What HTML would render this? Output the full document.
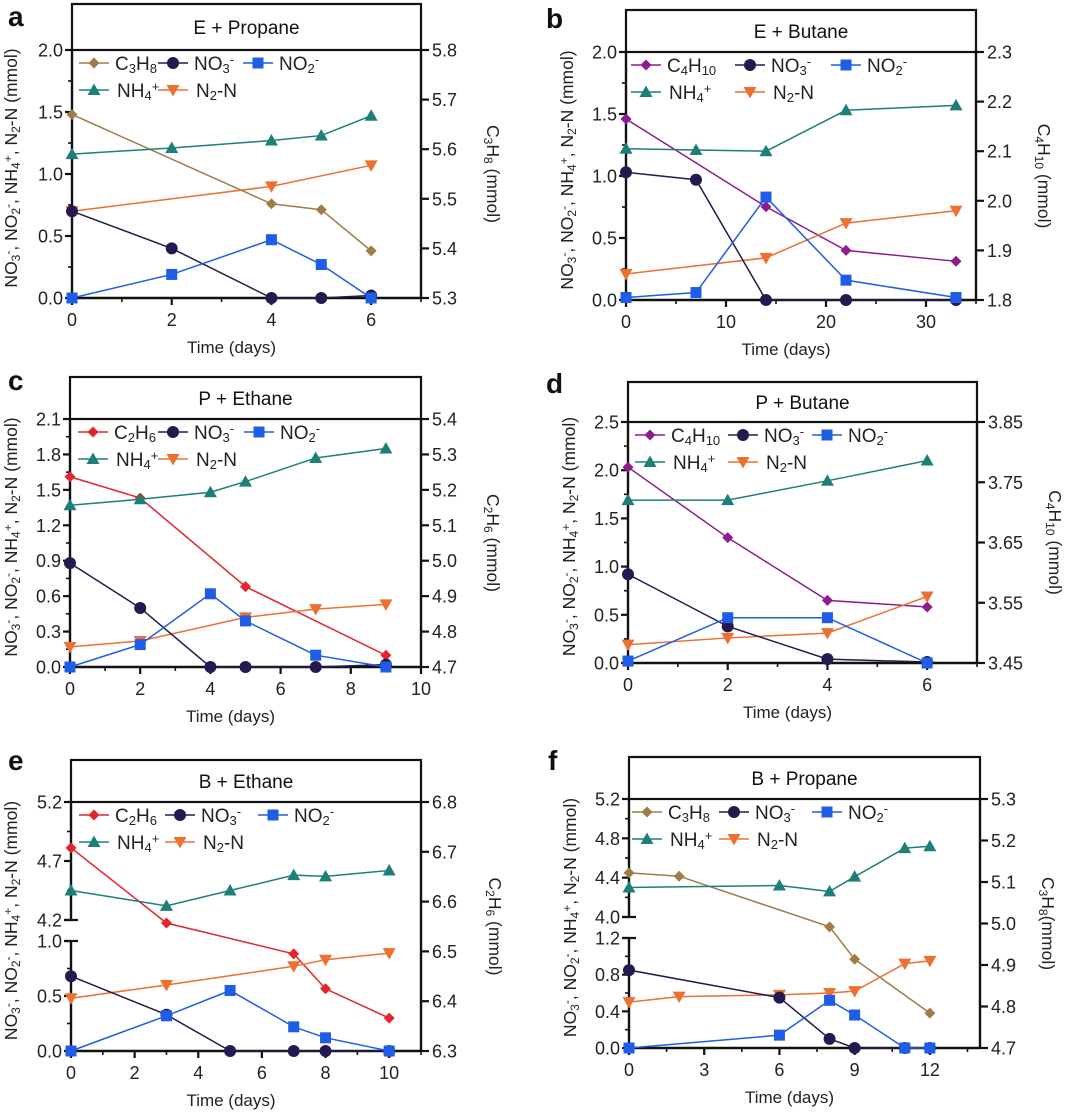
<!DOCTYPE html>
<html><head><meta charset="utf-8"><style>
html,body{margin:0;padding:0;background:#fff}
svg{display:block;font-family:"Liberation Sans",Arial,sans-serif}
</style></head><body>
<svg id="fig" width="1080" height="1114" viewBox="0 0 1080 1114" xmlns="http://www.w3.org/2000/svg"></svg>
<script>
// ---- Panel a: E + Propane
const aDays=[0,2,4,5,6];
const aGasDays=[0,4,5,6];
const aGas=[5.670,5.490,5.478,5.395];
const aNO3=[0.70,0.40,0,0,0.02];
const aNO2=[0,0.19,0.47,0.27,0];
const aNH4=[1.16,1.21,1.27,1.31,1.47];
const aN2Days=[0,4,6];
const aN2=[0.70,0.90,1.07];
// ---- Panel b: E + Butane
const bDays=[0,7,14,22,33];
const bGasDays=[0,14,22,33];
const bGas=[2.165,1.988,1.900,1.878];
const bNO3=[1.03,0.97,0,0,0];
const bNO2=[0.02,0.06,0.83,0.16,0.02];
const bNH4=[1.22,1.21,1.20,1.53,1.57];
const bN2Days=[0,14,22,33];
const bN2=[0.21,0.34,0.62,0.72];
// ---- Panel c: P + Ethane
const cDays=[0,2,4,5,7,9];
const cGasDays=[0,2,5,9];
const cGas=[5.237,5.177,4.927,4.733];
const cNO3=[0.88,0.50,0,0,0,0.02];
const cNO2=[0,0.19,0.62,0.39,0.10,0];
const cNH4=[1.37,1.42,1.48,1.57,1.77,1.85];
const cN2Days=[0,2,5,7,9];
const cN2=[0.17,0.22,0.42,0.49,0.53];
// ---- Panel d: P + Butane
const dDays=[0,2,4,6];
const dGasDays=[0,2,4,6];
const dGas=[3.775,3.658,3.554,3.543];
const dNO3=[0.92,0.38,0.04,0.01];
const dNO2=[0.02,0.47,0.47,0];
const dNH4=[1.69,1.69,1.89,2.10];
const dN2Days=[0,2,4,6];
const dN2=[0.19,0.26,0.31,0.69];
// ---- Panel e: B + Ethane
const eDays=[0,3,5,7,8,10];
const eGasDays=[0,3,7,8,10];
const eGas=[6.708,6.557,6.495,6.425,6.366];
const eNO3=[0.68,0.33,0,0,0,0];
const eNO2=[0,0.32,0.55,0.22,0.12,0];
const eNH4=[4.45,4.32,4.45,4.58,4.57,4.62];
const eN2Days=[0,3,7,8,10];
const eN2=[0.48,0.60,0.77,0.83,0.89];
// ---- Panel f: B + Propane
const fDays=[0,6,8,9,11,12];
const fGasDays=[0,2,8,9,12];
const fGas=[5.122,5.114,4.992,4.914,4.784];
const fNO3=[0.85,0.55,0.10,0,0,0];
const fNO2=[0,0.14,0.52,0.36,0,0];
const fNH4=[4.30,4.32,4.26,4.41,4.70,4.72];
const fN2Days=[0,2,6,8,9,11,12];
const fN2=[0.50,0.56,0.58,0.60,0.62,0.92,0.95];

const C={C3H8:'#a07c48',C4H10:'#8e1c8e',C2H6:'#e3262b',NO3:'#241a4f',NO2:'#1f5de6',NH4:'#1d7f78',N2:'#ec7030'};
const NS='http://www.w3.org/2000/svg';
const svg=document.getElementById('fig');
function mk(tag,attrs,parent){const e=document.createElementNS(NS,tag);for(const k in attrs)e.setAttribute(k,attrs[k]);(parent||svg).appendChild(e);return e;}
function rich(t,str,size){
  const re=/([_^])(\{[^}]*\}|.)/g;let last=0,m;
  while((m=re.exec(str))){
    if(m.index>last){const s=mk('tspan',{},t);s.textContent=str.slice(last,m.index);}
    let v=m[2];if(v[0]==='{')v=v.slice(1,-1);
    const s=mk('tspan',{'font-size':Math.round(size*0.68),'baseline-shift':m[1]==='_'?'-25%':'45%'},t);s.textContent=v;
    last=re.lastIndex;
  }
  if(last<str.length){const s=mk('tspan',{},t);s.textContent=str.slice(last);}
}
function marker(g,type,x,y,col){
  let e;
  if(type==='circle')e=mk('circle',{cx:x,cy:y,r:6,fill:col},g);
  else if(type==='square')e=mk('rect',{x:x-5.5,y:y-5.5,width:11,height:11,fill:col},g);
  else if(type==='diamond')e=mk('path',{d:`M${x},${y-5.5}L${x+5.5},${y}L${x},${y+5.5}L${x-5.5},${y}Z`,fill:col},g);
  else if(type==='up')e=mk('path',{d:`M${x},${y-6.5}L${x+6.5},${y+5}L${x-6.5},${y+5}Z`,fill:col},g);
  else e=mk('path',{d:`M${x},${y+6.5}L${x+6.5},${y-5}L${x-6.5},${y-5}Z`,fill:col},g);
  return e;
}
function panel(p){
  const g=mk('g',{});
  
  
  const xs=v=>p.L+(p.R-p.L)*v/p.xmax;
  const yl=v=>{for(const s of p.seg){if(v>=s.min-1e-9&&v<=s.max+1e-9)return s.bot-(s.bot-s.top)*(v-s.min)/(s.max-s.min);}return p.B;};
  const yr=v=>p.B-(p.B-p.Y0)*(v-p.rmin)/(p.rmax-p.rmin);
  const lt=mk('text',{x:p.lx,y:p.ly,'font-size':28,'font-weight':'bold',fill:'#111'},g);lt.textContent=p.id;
  
  const tb=mk('rect',{x:p.L,y:p.T,width:p.R-p.L,height:p.Y0-p.T,fill:'none',stroke:'#111','stroke-width':2.2},g);
  
  const tt=mk('text',{x:(p.L+p.R)/2,y:(p.T+p.Y0)/2+7,'font-size':19,'text-anchor':'middle',fill:'#111'},g);tt.textContent=p.title;
  
  const ax=mk('line',{x1:p.L,y1:p.B,x2:p.R,y2:p.B,stroke:'#111','stroke-width':2.4},g);
  
  p.xticks.forEach(v=>{mk('line',{x1:xs(v),y1:p.B,x2:xs(v),y2:p.B+7,stroke:'#111','stroke-width':2.2},g);
    const t=mk('text',{x:xs(v),y:p.B+28,'font-size':18,'text-anchor':'middle',fill:'#222'},g);t.textContent=v;
    });
  p.xminor.forEach(v=>mk('line',{x1:xs(v),y1:p.B,x2:xs(v),y2:p.B+4,stroke:'#111','stroke-width':1.6},g));
  const xt=mk('text',{x:(p.L+p.R)/2-15,y:p.B+55,'font-size':17,'text-anchor':'middle',fill:'#222'},g);xt.textContent='Time (days)';
  
  p.seg.forEach((s,i)=>{
    const la=mk('line',{x1:p.L,y1:s.bot,x2:p.L,y2:s.top,stroke:'#111','stroke-width':2.4},g);
    
    if(p.seg.length>1){
      if(i===0)mk('line',{x1:p.L-7,y1:s.top,x2:p.L+7,y2:s.top,stroke:'#111','stroke-width':2.2},g);
      else mk('line',{x1:p.L-7,y1:s.bot,x2:p.L+7,y2:s.bot,stroke:'#111','stroke-width':2.2},g);
    }
    s.ticks.forEach(v=>{mk('line',{x1:p.L-7,y1:yl(v),x2:p.L,y2:yl(v),stroke:'#111','stroke-width':2.2},g);
      const t=mk('text',{x:p.L-9,y:yl(v)+6.5,'font-size':18,'text-anchor':'end',fill:'#222'},g);t.textContent=v.toFixed(1);
      });
    s.minor.forEach(v=>mk('line',{x1:p.L-4,y1:yl(v),x2:p.L,y2:yl(v),stroke:'#111','stroke-width':1.6},g));
  });
  const ra=mk('line',{x1:p.R,y1:p.B,x2:p.R,y2:p.Y0,stroke:'#111','stroke-width':2.4},g);
  
  p.rticks.forEach(v=>{mk('line',{x1:p.R,y1:yr(v),x2:p.R+8,y2:yr(v),stroke:'#111','stroke-width':2.2},g);
    const t=mk('text',{x:p.R+11,y:yr(v)+6.5,'font-size':18,fill:'#222'},g);t.textContent=v.toFixed(p.rdec);
    });
  const cy=(p.Y0+p.B)/2;
  const lyt=mk('text',{x:0,y:0,'font-size':17.5,'text-anchor':'middle',fill:'#222',transform:`translate(${p.ytx},${cy-6}) rotate(-90)`},g);
  rich(lyt,'NO_3^-, NO_2^-, NH_4^+, N_2-N (mmol)',17.5);
  
  const ryt=mk('text',{x:0,y:0,'font-size':17.5,'text-anchor':'middle',fill:'#222',transform:`translate(${p.R+p.rtx},${cy}) rotate(90)`},g);
  rich(ryt,p.gasLabel+(p.id==='f'?'(mmol)':' (mmol)'),17.5);
  
  const series=[
    {name:p.gasLabel,key:'gas',days:p.gasDays,vals:p.gas,col:C[p.gas_k],m:'diamond',right:true},
    {name:'NH_4^+',key:'nh4',days:p.days,vals:p.nh4,col:C.NH4,m:'up'},
    {name:'N_2-N',key:'n2',days:p.n2Days,vals:p.n2,col:C.N2,m:'down'},
    {name:'NO_3^-',key:'no3',days:p.days,vals:p.no3,col:C.NO3,m:'circle'},
    {name:'NO_2^-',key:'no2',days:p.days,vals:p.no2,col:C.NO2,m:'square'}];
  series.forEach(s=>{
    const sg=mk('g',{},g);
    
    const pts=s.days.map((d,i)=>[xs(d),s.right?yr(s.vals[i]):yl(s.vals[i])]);
    const pl=mk('polyline',{points:pts.map(q=>q.join(',')).join(' '),fill:'none',stroke:s.col,'stroke-width':1.5},sg);
    
    pts.forEach(q=>{const e=marker(sg,s.m,q[0],q[1],s.col);
      });
  });
  const lg=mk('g',{},g);
  
  const pos=[[0,0],[1,0],[2,0],[0,1],[1,1]];
  const order=[series[0],series[3],series[4],series[1],series[2]];
  order.forEach((s,i)=>{
    const mx=p.L+p.leg[pos[i][0]],my=p.Y0+13+pos[i][1]*27;
    const eg=mk('g',{},lg);
    
    mk('line',{x1:mx-15,y1:my,x2:mx+15,y2:my,stroke:s.col,'stroke-width':1.5},eg);
    marker(eg,s.m,mx,my,s.col);
    const t=mk('text',{x:mx+(pos[i][1]?23:21),y:my+7,'font-size':19,fill:'#222'},eg);rich(t,s.name,19);
  });
}
const q=(a,b,s)=>{const r=[];for(let v=a;v<=b+1e-9;v+=s)r.push(+v.toFixed(3));return r;};
panel({id:'a',title:'E +  Propane',lx:8,ly:26,L:72,R:421,T:4,Y0:50,B:298,xmax:7,xticks:[0,2,4,6],xminor:[1,3,5,7],
  seg:[{min:0,max:2,top:50,bot:298,ticks:q(0,2,0.5),minor:q(0.25,1.75,0.5)}],rmin:5.3,rmax:5.8,rticks:q(5.3,5.8,0.1),rdec:1,
  ytx:17,rtx:66,gasLabel:'C_3H_8',gas_k:'C3H8',leg:[22,101,186],
  days:aDays,gasDays:aGasDays,gas:aGas,no3:aNO3,no2:aNO2,nh4:aNH4,n2Days:aN2Days,n2:aN2});
panel({id:'b',title:'E +  Butane',lx:546,ly:28,L:626,R:976,T:10,Y0:52,B:300,xmax:35,xticks:[0,10,20,30],xminor:[5,15,25,35],
  seg:[{min:0,max:2,top:52,bot:300,ticks:q(0,2,0.5),minor:q(0.25,1.75,0.5)}],rmin:1.8,rmax:2.3,rticks:q(1.8,2.3,0.1),rdec:1,
  ytx:573,rtx:62,gasLabel:'C_4H_{10}',gas_k:'C4H10',leg:[20,124,220],
  days:bDays,gasDays:bGasDays,gas:bGas,no3:bNO3,no2:bNO2,nh4:bNH4,n2Days:bN2Days,n2:bN2});
panel({id:'c',title:'P +  Ethane',lx:8,ly:390,L:70,R:421,T:377,Y0:419,B:667,xmax:10,xticks:[0,2,4,6,8,10],xminor:[1,3,5,7,9],
  seg:[{min:0,max:2.1,top:419,bot:667,ticks:q(0,2.1,0.3),minor:q(0.15,1.95,0.3)}],rmin:4.7,rmax:5.4,rticks:q(4.7,5.4,0.1),rdec:1,
  ytx:17,rtx:66,gasLabel:'C_2H_6',gas_k:'C2H6',leg:[23,103,189],
  days:cDays,gasDays:cGasDays,gas:cGas,no3:cNO3,no2:cNO2,nh4:cNH4,n2Days:cN2Days,n2:cN2});
panel({id:'d',title:'P +  Butane',lx:546,ly:393,L:628,R:977,T:382,Y0:422,B:663,xmax:7,xticks:[0,2,4,6],xminor:[1,3,5,7],
  seg:[{min:0,max:2.5,top:422,bot:663,ticks:q(0,2.5,0.5),minor:q(0.25,2.25,0.5)}],rmin:3.45,rmax:3.85,rticks:q(3.45,3.85,0.1),rdec:2,
  ytx:575,rtx:72,gasLabel:'C_4H_{10}',gas_k:'C4H10',leg:[22,115,199],
  days:dDays,gasDays:dGasDays,gas:dGas,no3:dNO3,no2:dNO2,nh4:dNH4,n2Days:dN2Days,n2:dN2});
panel({id:'e',title:'B +  Ethane',lx:8,ly:770,L:71,R:421,T:760,Y0:802,B:1051,xmax:11,xticks:[0,2,4,6,8,10],xminor:[1,3,5,7,9,11],
  seg:[{min:0,max:1,top:941,bot:1051,ticks:[0,0.5,1],minor:[0.25,0.75]},{min:4.2,max:5.2,top:802,bot:920,ticks:[4.2,4.7,5.2],minor:[4.45,4.95]}],
  rmin:6.3,rmax:6.8,rticks:q(6.3,6.8,0.1),rdec:1,ytx:17,rtx:68,gasLabel:'C_2H_6',gas_k:'C2H6',leg:[23,109,202],
  days:eDays,gasDays:eGasDays,gas:eGas,no3:eNO3,no2:eNO2,nh4:eNH4,n2Days:eN2Days,n2:eN2});
panel({id:'f',title:'B +  Propane',lx:548,ly:770,L:629,R:980,T:757,Y0:799,B:1048,xmax:14,xticks:[0,3,6,9,12],xminor:[1.5,4.5,7.5,10.5,13.5],
  seg:[{min:0,max:1.2,top:938,bot:1048,ticks:[0,0.4,0.8,1.2],minor:[0.2,0.6,1.0]},{min:4.0,max:5.2,top:799,bot:917,ticks:[4.0,4.4,4.8,5.2],minor:[4.2,4.6,5.0]}],
  rmin:4.7,rmax:5.3,rticks:q(4.7,5.3,0.1),rdec:1,ytx:576,rtx:62,gasLabel:'C_3H_8',gas_k:'C3H8',leg:[18,105,198],
  days:fDays,gasDays:fGasDays,gas:fGas,no3:fNO3,no2:fNO2,nh4:fNH4,n2Days:fN2Days,n2:fN2});
</script>
</body></html>
